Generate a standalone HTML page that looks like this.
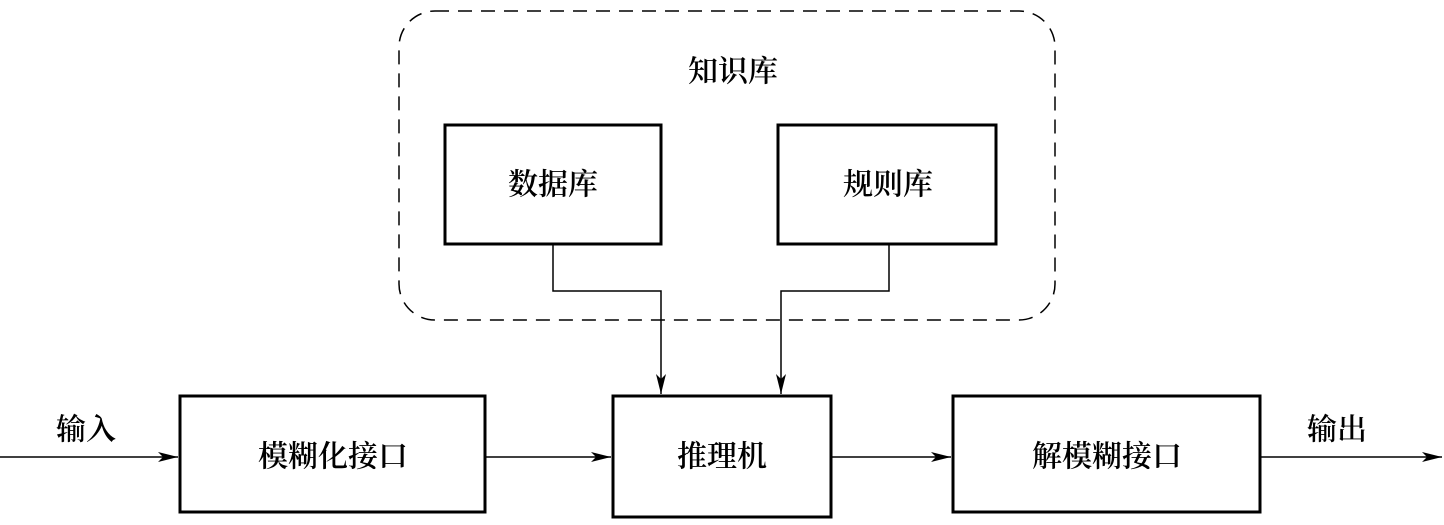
<!DOCTYPE html>
<html><head><meta charset="utf-8"><style>
html,body{margin:0;padding:0;background:#fff;}
svg text{font-family:"Liberation Serif","Noto Serif CJK SC","Noto Sans CJK SC",serif;font-size:30px;font-weight:600;fill:#000;text-anchor:middle;dominant-baseline:central;}
</style></head><body>
<svg width="1444" height="520" viewBox="0 0 1444 520" xmlns="http://www.w3.org/2000/svg">
<defs><marker id="a" viewBox="0 0 20 10" refX="20" refY="5" markerWidth="20" markerHeight="10" markerUnits="userSpaceOnUse" orient="auto"><path d="M0,0 L20,5 L0,10 L5,5 Z" fill="#000"/></marker></defs>
<rect x="399" y="11" width="656" height="309" rx="36" fill="none" stroke="#000" stroke-width="1.5" stroke-dasharray="14,9"/>
<text x="733" y="72">知识库</text>
<g fill="none" stroke="#000" stroke-width="3">
<rect x="445" y="125" width="216" height="119"/>
<rect x="778" y="125" width="218" height="119"/>
<rect x="180" y="396" width="305" height="116"/>
<rect x="613" y="396" width="218" height="121"/>
<rect x="953" y="396" width="307" height="116"/>
</g>
<text x="553" y="185">数据库</text>
<text x="888" y="185">规则库</text>
<text x="333" y="457">模糊化接口</text>
<text x="722" y="457">推理机</text>
<text x="1107" y="457">解模糊接口</text>
<text x="86" y="430">输入</text>
<text x="1337" y="430">输出</text>
<g fill="none" stroke="#000" stroke-width="1.5">
<path d="M553,244 V291 H661 V394" marker-end="url(#a)"/>
<path d="M889,244 V291 H781 V394" marker-end="url(#a)"/>
<path d="M0,457 H178" marker-end="url(#a)"/>
<path d="M485,457 H611" marker-end="url(#a)"/>
<path d="M831,457 H951" marker-end="url(#a)"/>
<path d="M1260,457 H1442" marker-end="url(#a)"/>
</g>
</svg>
</body></html>
